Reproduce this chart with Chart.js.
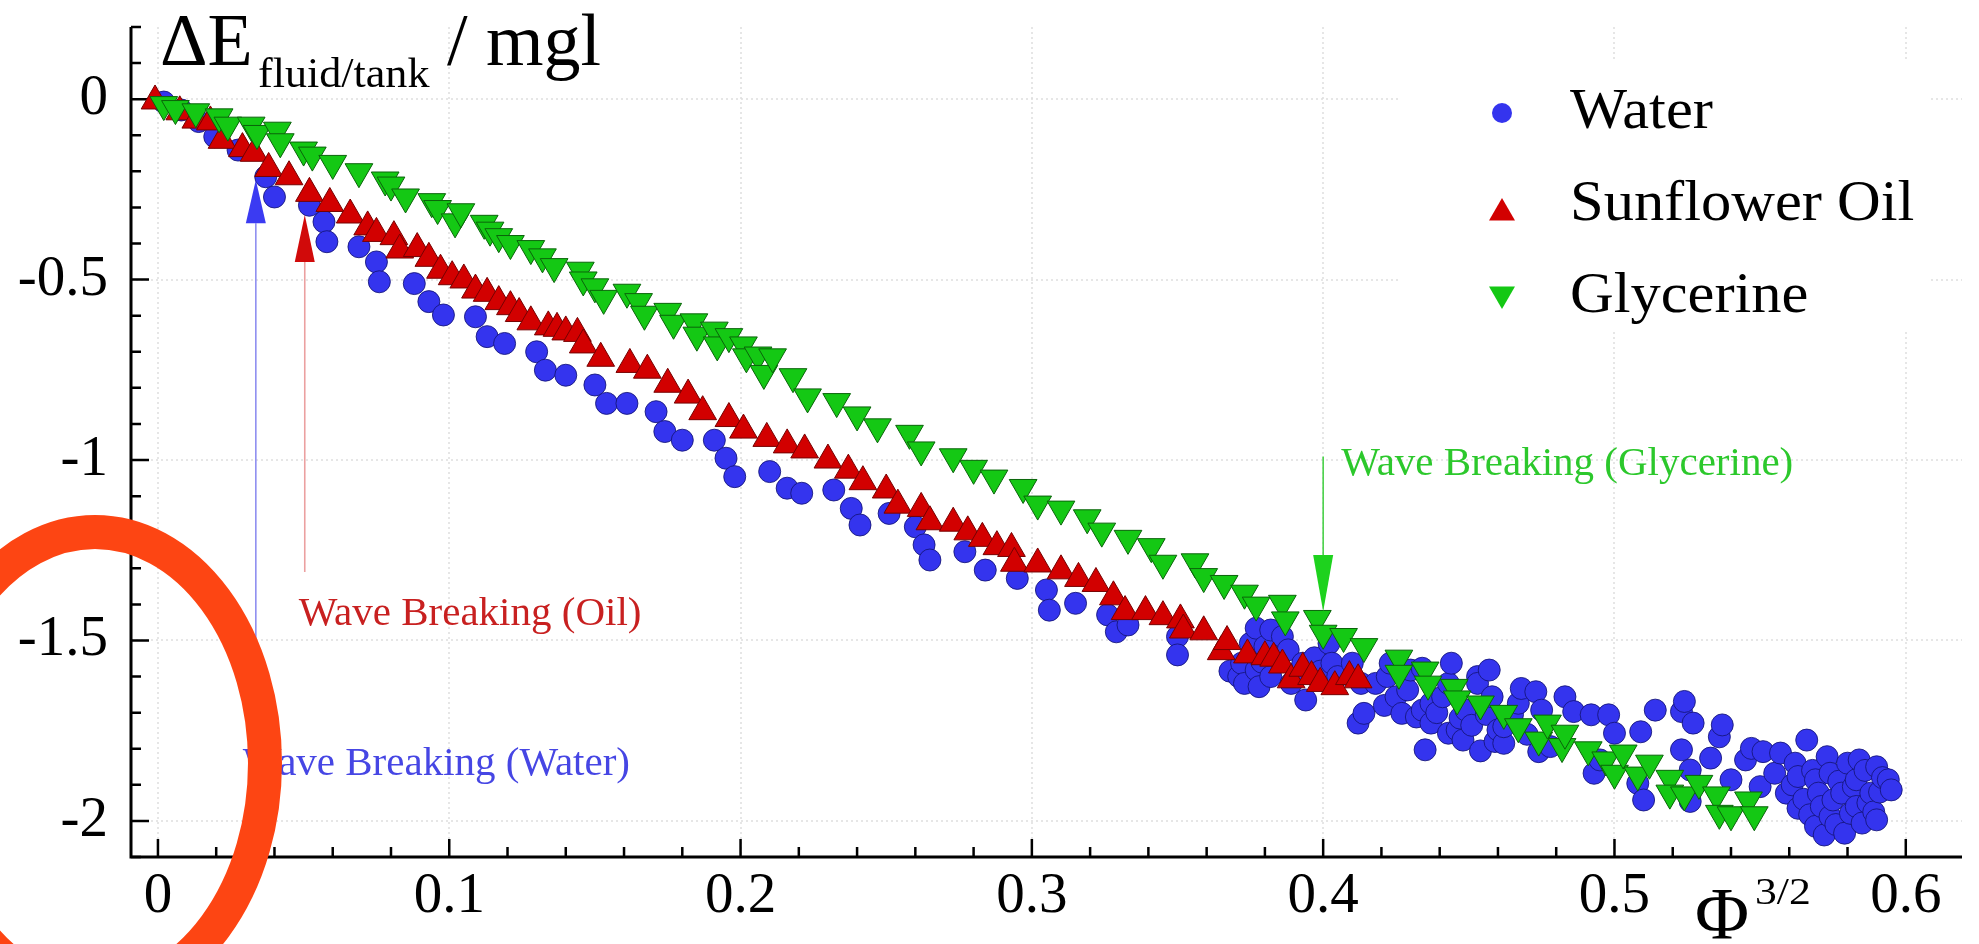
<!DOCTYPE html>
<html>
<head>
<meta charset="utf-8">
<title>Energy dissipated vs fill ratio</title>
<script src="https://cdn.jsdelivr.net/npm/chart.js@4.4.1/dist/chart.umd.min.js"></script>
<style>
  html, body { margin: 0; padding: 0; background: #fff; }
  #wrap { width: 1979px; height: 944px; }
</style>
</head>
<body>
<div id="wrap"><canvas id="energyChart" width="1979" height="944"></canvas></div>
<script>
// --- data: [Phi^(3/2), dE / mgl] ---
const seriesNames = ["Water", "Sunflower Oil", "Glycerine"];

const waterPoints = [
  [0.002,-0.008],[0.008,-0.030],[0.014,-0.062],[0.0195,-0.104],[0.0275,-0.141],[0.037,-0.215],
  [0.040,-0.271],[0.052,-0.294],[0.057,-0.340],[0.058,-0.395],[0.069,-0.409],[0.075,-0.451],
  [0.076,-0.506],[0.088,-0.511],[0.093,-0.561],[0.098,-0.598],[0.109,-0.603],[0.113,-0.658],
  [0.119,-0.677],[0.130,-0.700],[0.133,-0.751],[0.140,-0.765],[0.150,-0.792],[0.154,-0.843],
  [0.161,-0.843],[0.171,-0.866],[0.174,-0.921],[0.180,-0.945],[0.191,-0.945],[0.195,-0.995],
  [0.198,-1.046],[0.210,-1.032],[0.216,-1.078],[0.221,-1.092],[0.232,-1.083],[0.238,-1.134],
  [0.241,-1.180],[0.251,-1.148],[0.260,-1.185],[0.263,-1.235],[0.265,-1.277],[0.277,-1.254],
  [0.284,-1.305],[0.295,-1.328],[0.305,-1.360],[0.306,-1.416],[0.315,-1.397],[0.326,-1.429],
  [0.329,-1.476],[0.333,-1.457],[0.350,-1.489],[0.350,-1.540],
  [0.368,-1.585],[0.371,-1.600],[0.372,-1.563],[0.373,-1.619],[0.375,-1.508],[0.377,-1.466],
  [0.377,-1.582],[0.378,-1.628],[0.379,-1.560],[0.380,-1.517],[0.382,-1.471],[0.382,-1.600],
  [0.384,-1.545],[0.386,-1.489],[0.388,-1.526],[0.389,-1.619],[0.391,-1.590],[0.393,-1.563],
  [0.394,-1.665],[0.397,-1.548],[0.399,-1.585],[0.402,-1.508],[0.403,-1.563],[0.405,-1.600],
  [0.410,-1.563],[0.412,-1.729],[0.413,-1.619],[0.414,-1.702],[0.418,-1.619],[0.421,-1.680],
  [0.422,-1.600],[0.423,-1.563],[0.425,-1.656],[0.427,-1.702],[0.429,-1.637],[0.430,-1.582],
  [0.432,-1.712],[0.434,-1.693],[0.434,-1.577],[0.435,-1.803],[0.437,-1.729],[0.437,-1.674],
  [0.439,-1.700],[0.441,-1.656],[0.443,-1.757],[0.443,-1.619],[0.444,-1.563],[0.446,-1.748],
  [0.447,-1.715],[0.448,-1.776],[0.449,-1.693],[0.451,-1.735],[0.453,-1.600],[0.453,-1.619],
  [0.454,-1.806],[0.456,-1.705],[0.457,-1.582],[0.458,-1.656],[0.459,-1.780],[0.460,-1.748],
  [0.462,-1.785],[0.462,-1.739],[0.465,-1.705],[0.467,-1.674],[0.468,-1.633],[0.470,-1.760],
  [0.473,-1.642],[0.474,-1.808],[0.475,-1.693],[0.478,-1.794],[0.483,-1.656],[0.486,-1.697],
  [0.492,-1.706],[0.493,-1.868],[0.495,-1.831],[0.498,-1.706],[0.500,-1.757],[0.508,-1.896],
  [0.509,-1.753],[0.510,-1.942],[0.514,-1.693],[0.523,-1.803],[0.523,-1.697],[0.524,-1.669],
  [0.526,-1.859],[0.526,-1.946],[0.527,-1.729],[0.533,-1.826],[0.536,-1.767],[0.537,-1.734],
  [0.540,-1.886],[0.545,-1.831],[0.547,-1.799],[0.550,-1.905],[0.551,-1.808],[0.555,-1.868],
  [0.557,-1.812],[0.559,-1.923],[0.561,-1.900],[0.562,-1.840],[0.563,-1.877],[0.563,-1.965],
  [0.565,-1.940],[0.566,-1.776],[0.567,-1.983],[0.568,-1.860],[0.569,-1.886],[0.569,-2.015],
  [0.570,-1.923],[0.571,-1.960],[0.572,-2.039],[0.573,-1.822],[0.574,-1.868],[0.574,-1.988],
  [0.575,-1.942],[0.576,-2.010],[0.577,-1.890],[0.578,-1.923],[0.579,-2.034],[0.580,-1.840],
  [0.581,-1.979],[0.582,-1.905],[0.583,-1.960],[0.583,-1.886],[0.584,-1.831],[0.585,-2.006],
  [0.586,-1.860],[0.587,-1.950],[0.588,-1.923],[0.589,-1.975],[0.590,-1.850],[0.590,-1.997],
  [0.591,-1.920],[0.592,-1.880],[0.594,-1.886],[0.595,-1.914]
];

const oilPoints = [
  [-0.001,-0.005],[0.0075,-0.035],[0.013,-0.058],[0.018,-0.063],[0.022,-0.114],[0.029,-0.137],
  [0.033,-0.150],[0.038,-0.192],[0.045,-0.215],[0.052,-0.261],[0.059,-0.289],[0.066,-0.321],
  [0.072,-0.354],[0.075,-0.372],[0.081,-0.381],[0.083,-0.418],[0.089,-0.414],[0.093,-0.441],
  [0.097,-0.474],[0.101,-0.492],[0.105,-0.501],[0.109,-0.529],[0.113,-0.538],[0.117,-0.561],
  [0.121,-0.575],[0.124,-0.594],[0.128,-0.617],[0.134,-0.631],[0.137,-0.635],[0.140,-0.645],
  [0.144,-0.649],[0.146,-0.681],[0.152,-0.718],[0.162,-0.735],[0.168,-0.751],[0.175,-0.790],
  [0.182,-0.820],[0.187,-0.866],[0.196,-0.885],[0.201,-0.917],[0.209,-0.940],[0.216,-0.958],
  [0.222,-0.972],[0.230,-1.000],[0.237,-1.028],[0.242,-1.060],[0.250,-1.083],[0.254,-1.125],
  [0.262,-1.134],[0.265,-1.171],[0.273,-1.175],[0.278,-1.199],[0.283,-1.217],[0.288,-1.240],
  [0.293,-1.245],[0.294,-1.286],[0.302,-1.288],[0.310,-1.307],[0.316,-1.328],[0.322,-1.342],
  [0.328,-1.379],[0.332,-1.420],[0.339,-1.420],[0.345,-1.434],[0.351,-1.443],[0.352,-1.471],
  [0.359,-1.476],[0.365,-1.531],[0.367,-1.503],[0.374,-1.540],[0.380,-1.545],[0.383,-1.549],
  [0.386,-1.568],[0.389,-1.609],[0.393,-1.577],[0.396,-1.600],[0.399,-1.619],[0.404,-1.628],
  [0.409,-1.600],[0.412,-1.609]
];

const glycerinePoints = [
  [0.002,-0.015],[0.006,-0.026],[0.013,-0.035],[0.021,-0.049],[0.024,-0.072],[0.032,-0.072],
  [0.034,-0.095],[0.041,-0.086],[0.042,-0.118],[0.050,-0.141],[0.053,-0.155],[0.060,-0.178],
  [0.069,-0.201],[0.078,-0.224],[0.080,-0.238],[0.085,-0.271],[0.094,-0.284],[0.096,-0.303],
  [0.102,-0.340],[0.104,-0.312],[0.112,-0.344],[0.114,-0.363],[0.117,-0.381],[0.121,-0.400],
  [0.128,-0.414],[0.132,-0.437],[0.136,-0.464],[0.145,-0.474],[0.146,-0.501],[0.150,-0.520],
  [0.153,-0.552],[0.161,-0.535],[0.165,-0.561],[0.167,-0.596],[0.175,-0.588],[0.177,-0.621],
  [0.184,-0.617],[0.185,-0.654],[0.191,-0.640],[0.192,-0.681],[0.196,-0.658],[0.201,-0.681],
  [0.202,-0.714],[0.206,-0.709],[0.208,-0.760],[0.211,-0.714],[0.218,-0.769],[0.223,-0.825],
  [0.233,-0.838],[0.240,-0.875],[0.247,-0.908],[0.258,-0.926],[0.262,-0.972],[0.273,-0.991],
  [0.280,-1.023],[0.287,-1.050],[0.297,-1.076],[0.302,-1.122],[0.310,-1.136],[0.319,-1.160],
  [0.324,-1.197],[0.333,-1.217],[0.341,-1.240],[0.345,-1.286],[0.356,-1.282],[0.359,-1.323],
  [0.366,-1.342],[0.373,-1.369],[0.377,-1.402],[0.386,-1.397],[0.387,-1.443],[0.398,-1.439],
  [0.400,-1.480],[0.407,-1.489],[0.414,-1.517],[0.426,-1.549],[0.426,-1.591],[0.435,-1.582],
  [0.436,-1.621],[0.445,-1.630],[0.446,-1.662],[0.454,-1.676],[0.462,-1.702],[0.467,-1.739],
  [0.474,-1.776],[0.477,-1.729],[0.482,-1.794],[0.483,-1.757],[0.491,-1.803],[0.497,-1.831],
  [0.500,-1.868],[0.503,-1.812],[0.508,-1.873],[0.512,-1.840],[0.519,-1.882],[0.519,-1.923],
  [0.524,-1.928],[0.529,-1.896],[0.535,-1.928],[0.536,-1.979],[0.540,-1.983],[0.546,-1.942],
  [0.548,-1.983]
];

// tick values
const xMajorTicks = [0, 0.1, 0.2, 0.3, 0.4, 0.5, 0.6];
const yMajorTicks = [-2, -1.5, -1, -0.5, 0];
const xMinorStep = 0.02;
const yMinorStep = 0.1;

// wave-breaking annotations (label text, phi where it happens)
const breakLabels = ["Wave Breaking (Water)", "Wave Breaking (Oil)", "Wave Breaking (Glycerine)"];
const breakPhi = [0.0336, 0.0504, 0.4];

// --- styles / placement ---
const SERIF = '"Liberation Serif", "Times New Roman", serif';
const colors = {
  water: "#3434ee", waterEdge: "rgba(20,20,120,0.85)",
  oil: "#d20000", oilEdge: "#760000",
  gly: "#14c814", glyEdge: "#0a640a",
};

const arrows = [
  { x: breakPhi[0], tip: -0.224, base: -0.344, end: -1.762, head: "#3b3bf2", line: "#8f8ff0" },
  { x: breakPhi[1], tip: -0.321, base: -0.451, end: -1.310, head: "#d10a0a", line: "#eba0a0" },
  { x: breakPhi[2], tip: -1.420, base: -1.263, end: -0.990, head: "#1ed21e", line: "#4ad24a" },
];
const notes = [
  { text: breakLabels[0], x: 0.0291, y: -1.873, color: "#4646e4" },
  { text: breakLabels[1], x: 0.0483, y: -1.457, color: "#c82020" },
  { text: breakLabels[2], x: 0.4062, y: -1.042, color: "#2cc82c" },
];

function drawText(ctx, str, x, y, size, color, stretch = 1) {
  ctx.save();
  ctx.font = `${size}px ${SERIF}`;
  ctx.fillStyle = color;
  ctx.textAlign = "left";
  ctx.textBaseline = "alphabetic";
  ctx.translate(x, y);
  ctx.scale(stretch, 1);
  ctx.fillText(str, 0, 0);
  ctx.restore();
}

function markerPath(ctx, style, x, y, r) {
  ctx.beginPath();
  if (style === "circle") {
    ctx.arc(x, y, r, 0, Math.PI * 2);
  } else {
    const dir = style === "up" ? -1 : 1;
    ctx.moveTo(x, y + dir * r);
    ctx.lineTo(x - r * 0.866, y - dir * r / 2);
    ctx.lineTo(x + r * 0.866, y - dir * r / 2);
    ctx.closePath();
  }
}

function minorValues(min, max, step) {
  const out = [];
  const n0 = Math.ceil(min / step - 1e-6), n1 = Math.floor(max / step + 1e-6);
  for (let n = n0; n <= n1; n++) out.push(+(n * step).toFixed(4));
  return out;
}

const decor = {
  id: "decor",
  beforeDraw(chart) {
    const { ctx, width, height } = chart;
    ctx.save();
    ctx.fillStyle = "#fff";
    ctx.fillRect(0, 0, width, height);
    ctx.restore();
  },
  beforeDatasetsDraw(chart) {
    const { ctx, chartArea: a, scales: { x, y } } = chart;
    ctx.save();
    // faint dotted grid
    ctx.strokeStyle = "#dedede";
    ctx.lineWidth = 1.5;
    ctx.setLineDash([2, 3]);
    ctx.beginPath();
    xMajorTicks.forEach(v => { const p = Math.round(x.getPixelForValue(v)); ctx.moveTo(p, a.top); ctx.lineTo(p, a.bottom); });
    yMajorTicks.forEach(v => { const p = Math.round(y.getPixelForValue(v)); ctx.moveTo(a.left, p); ctx.lineTo(a.right, p); });
    ctx.stroke();
    ctx.setLineDash([]);

    // axes
    ctx.strokeStyle = "#000";
    ctx.lineWidth = 3;
    ctx.beginPath();
    ctx.moveTo(a.left, a.top); ctx.lineTo(a.left, a.bottom); ctx.lineTo(a.right, a.bottom);
    ctx.stroke();

    // inward tick marks
    ctx.lineWidth = 2.5;
    ctx.beginPath();
    minorValues(x.min, x.max, xMinorStep).forEach(v => {
      const p = x.getPixelForValue(v);
      const len = xMajorTicks.some(m => Math.abs(m - v) < 1e-6) ? 18 : 10;
      ctx.moveTo(p, a.bottom); ctx.lineTo(p, a.bottom - len);
    });
    minorValues(y.min, y.max, yMinorStep).forEach(v => {
      const p = y.getPixelForValue(v);
      const len = yMajorTicks.some(m => Math.abs(m - v) < 1e-6) ? 18 : 10;
      ctx.moveTo(a.left, p); ctx.lineTo(a.left + len, p);
    });
    ctx.stroke();
    ctx.restore();
  },
  afterDatasetsDraw(chart) {
    const { ctx, scales: { x, y } } = chart;
    ctx.save();

    // wave breaking arrows
    arrows.forEach(ar => {
      const px = x.getPixelForValue(ar.x);
      ctx.strokeStyle = ar.line;
      ctx.lineWidth = 1.6;
      ctx.beginPath();
      ctx.moveTo(px, y.getPixelForValue(ar.base));
      ctx.lineTo(px, y.getPixelForValue(ar.end));
      ctx.stroke();
      const tip = y.getPixelForValue(ar.tip), base = y.getPixelForValue(ar.base);
      ctx.fillStyle = ar.head;
      ctx.beginPath();
      ctx.moveTo(px, tip);
      ctx.lineTo(px - 10, base);
      ctx.lineTo(px + 10, base);
      ctx.closePath();
      ctx.fill();
    });
    notes.forEach(n => drawText(ctx, n.text, x.getPixelForValue(n.x), y.getPixelForValue(n.y), 41, n.color));

    // legend box
    ctx.fillStyle = "#fff";
    ctx.fillRect(1400, 60, 528, 270);
    const legendRows = [
      { name: seriesNames[0], style: "circle", r: 10, color: colors.water, my: 113, ty: 128 },
      { name: seriesNames[1], style: "up", r: 15, color: colors.oil, my: 213, ty: 220 },
      { name: seriesNames[2], style: "down", r: 15, color: colors.gly, my: 294, ty: 312 },
    ];
    legendRows.forEach(row => {
      ctx.fillStyle = row.color;
      markerPath(ctx, row.style, 1502, row.my, row.r);
      ctx.fill();
      drawText(ctx, row.name, 1570, row.ty, 56, "#000", 1.08);
    });
    ctx.restore();
  },
  afterDraw(chart) {
    const { ctx } = chart;
    ctx.save();
    // y title: dE_fluid/tank / mgl
    drawText(ctx, "\u0394E", 160, 65, 74, "#000");
    drawText(ctx, "fluid/tank", 258, 87, 42, "#000", 1.05);
    drawText(ctx, "/ mgl", 447, 65, 74, "#000");
    // x title: Phi^(3/2)
    drawText(ctx, "\u03A6", 1695, 939, 74, "#000");
    drawText(ctx, "3/2", 1755, 904, 38, "#000", 1.15);

    // red highlight ring drawn over the figure
    ctx.strokeStyle = "#fd4513";
    ctx.lineWidth = 34;
    ctx.beginPath();
    ctx.ellipse(95, 763, 170, 231, 0, 0, Math.PI * 2);
    ctx.stroke();
    ctx.restore();
  },
};

const pointDataset = (label, pts, fill, edge, style, r, rot, order) => ({
  label,
  data: pts.map(([px, py]) => ({ x: px, y: py })),
  backgroundColor: fill,
  borderColor: edge,
  borderWidth: 1,
  pointStyle: style,
  pointRadius: r,
  pointRotation: rot,
  order,
});

new Chart(document.getElementById("energyChart"), {
  type: "scatter",
  data: {
    datasets: [
      pointDataset(seriesNames[0], waterPoints, colors.water, colors.waterEdge, "circle", 11, 0, 3),
      pointDataset(seriesNames[1], oilPoints, colors.oil, colors.oilEdge, "triangle", 16, 0, 2),
      pointDataset(seriesNames[2], glycerinePoints, colors.gly, colors.glyEdge, "triangle", 16, 180, 1),
    ],
  },
  options: {
    responsive: false,
    devicePixelRatio: 1,
    animation: false,
    events: [],
    layout: { padding: { top: 27, right: 14, left: 0, bottom: 0 } },
    plugins: { legend: { display: false }, tooltip: { enabled: false } },
    scales: {
      x: {
        type: "linear",
        min: -0.00925,
        max: 0.6193,
        grid: { display: false, drawTicks: false, tickLength: 0 },
        border: { display: false },
        afterBuildTicks: s => { s.ticks = xMajorTicks.map(v => ({ value: v })); },
        afterFit: s => { s.height = 87; s.paddingLeft = 0; s.paddingRight = 0; },
        ticks: {
          padding: 6,
          color: "#000",
          maxRotation: 0,
          autoSkip: false,
          font: { family: SERIF, size: 57 },
          callback: v => String(v),
        },
      },
      y: {
        type: "linear",
        min: -2.1,
        max: 0.2,
        grid: { display: false, drawTicks: false, tickLength: 0 },
        border: { display: false },
        afterBuildTicks: s => { s.ticks = yMajorTicks.map(v => ({ value: v })); },
        afterFit: s => { s.width = 131; s.paddingTop = 0; s.paddingBottom = 0; },
        ticks: {
          padding: 23,
          color: "#000",
          autoSkip: false,
          font: { family: SERIF, size: 57 },
          callback: v => String(v),
        },
      },
    },
  },
  plugins: [decor],
});
</script>
</body>
</html>
